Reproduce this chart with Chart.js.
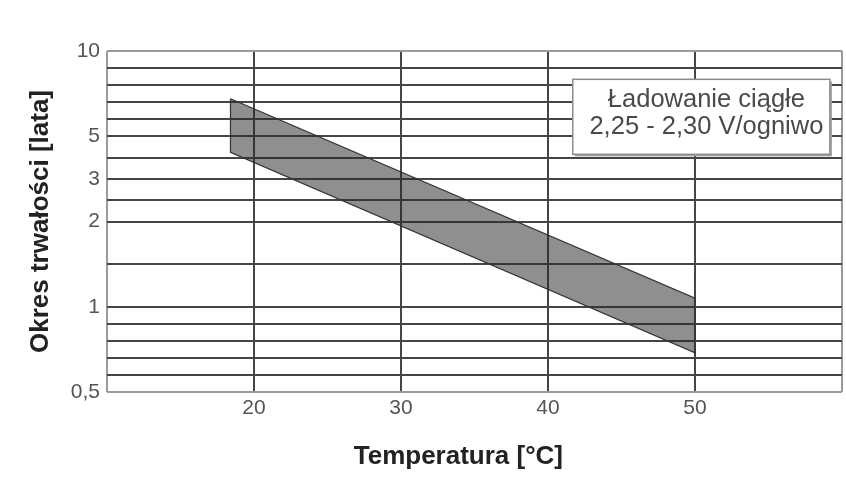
<!DOCTYPE html>
<html>
<head>
<meta charset="utf-8">
<script src="https://cdn.jsdelivr.net/npm/chart.js@4.4.1/dist/chart.umd.min.js"></script>
<style>
html,body{margin:0;padding:0;background:#fff;}
canvas{display:block;}
</style>
</head>
<body>
<canvas id="c" width="846" height="477"></canvas>
<script>
// ---- data ----
const bandTemps = [18.4, 50];          // °C, left and right edge of the band
const lifeUpper = [7.2, 1.1];          // years, upper edge of the band
const lifeLower = [4.25, 0.73];        // years, lower edge of the band
const xTickValues = [20, 30, 40, 50];
const yGridValues = [0.5,0.6,0.7,0.8,0.9,1,1.5,2,2.5,3,4,5,6,7,8,9,10];
// where each grid value sits on the printed (non-uniform) paper scale
const yGridSteps  = [0,0.2,0.4,0.6,0.8,1,1.5,2,2.25,2.5,2.75,3,3.2,3.4,3.6,3.8,4];
const yTickLabels = {10:'10', 5:'5', 3:'3', 2:'2', 1:'1', 0.5:'0,5'};
const noteLines = ['Ładowanie ciągłe', '2,25 - 2,30 V/ogniwo'];
const xTitle = 'Temperatura [°C]';
const yTitle = 'Okres trwałości [lata]';

const FONT = "'Liberation Sans', Arial, sans-serif";

// ---- custom scale reproducing the paper's piecewise value axis ----
class PaperScale extends Chart.LinearScale {
  determineDataLimits() {
    this.min = yGridValues[0];
    this.max = yGridValues[yGridValues.length - 1];
  }
  buildTicks() {
    return yGridValues.map(v => ({ value: v }));
  }
  _stepOf(v) {
    const g = yGridValues, s = yGridSteps, n = g.length - 1;
    if (v <= g[0]) return s[0] + (v - g[0]) / (g[1] - g[0]) * (s[1] - s[0]);
    for (let i = 1; i <= n; i++) {
      if (v <= g[i]) return s[i-1] + (v - g[i-1]) / (g[i] - g[i-1]) * (s[i] - s[i-1]);
    }
    return s[n] + (v - g[n]) / (g[n] - g[n-1]) * (s[n] - s[n-1]);
  }
  getPixelForValue(v) {
    return this.getPixelForDecimal(this._stepOf(v) / yGridSteps[yGridSteps.length - 1]);
  }
  getValueForPixel(p) {
    const g = yGridValues, s = yGridSteps, n = g.length - 1;
    const st = this.getDecimalForPixel(p) * s[n];
    for (let i = 1; i <= n; i++) {
      if (st <= s[i]) return g[i-1] + (st - s[i-1]) / (s[i] - s[i-1]) * (g[i] - g[i-1]);
    }
    return g[n];
  }
}
PaperScale.id = 'paper';
PaperScale.defaults = Chart.LinearScale.defaults;
Chart.register(PaperScale);

// closed band polygon built from the two edges
const bandPoints = [
  { x: bandTemps[0], y: lifeUpper[0] },
  { x: bandTemps[1], y: lifeUpper[1] },
  { x: bandTemps[1], y: lifeLower[1] },
  { x: bandTemps[0], y: lifeLower[0] },
  { x: bandTemps[0], y: lifeUpper[0] }
];

const notePlugin = {
  id: 'note',
  afterDatasetsDraw(chart) {
    const { ctx, chartArea: a } = chart;
    const w = a.right - a.left, h = a.bottom - a.top;
    const x0 = a.left + w * 0.6337, x1 = a.left + w * 0.9835;
    const y0 = a.top + h * 0.083,  y1 = a.top + h * 0.303;
    ctx.save();
    // shadow
    ctx.fillStyle = '#a0a0a0';
    ctx.fillRect(x0 + 2, y0 + 2, x1 - x0, y1 - y0);
    ctx.fillStyle = '#ffffff';
    ctx.fillRect(x0, y0, x1 - x0, y1 - y0);
    ctx.strokeStyle = '#8c8c8c';
    ctx.lineWidth = 1.5;
    ctx.strokeRect(x0, y0, x1 - x0, y1 - y0);
    ctx.fillStyle = '#4a4a4a';
    ctx.font = '25.5px ' + FONT;
    ctx.textAlign = 'center';
    ctx.textBaseline = 'alphabetic';
    const cx = a.left + w * 0.8155;
    ctx.fillText(noteLines[0], cx, a.top + h * 0.1654);
    ctx.fillText(noteLines[1], cx, a.top + h * 0.2434);
    ctx.restore();
  },
  afterDraw(chart) {
    const { ctx } = chart;
    ctx.save();
    ctx.fillStyle = '#222';
    ctx.font = 'bold 26px ' + FONT;
    ctx.textAlign = 'center';
    ctx.textBaseline = 'middle';
    ctx.fillText(xTitle, chart.width * 0.5418, chart.height - 20);
    ctx.restore();
  }
};

const frameColor = '#9a9a9a';
const gridColor = '#454545';

new Chart(document.getElementById('c'), {
  type: 'line',
  data: {
    datasets: [{
      data: bandPoints,
      fill: 'shape',
      backgroundColor: 'rgba(40,40,40,0.52)',
      borderColor: '#333',
      borderWidth: 1.2,
      pointRadius: 0,
      tension: 0
    }]
  },
  options: {
    responsive: false,
    animation: false,
    devicePixelRatio: 1,
    layout: { padding: { left: 0, top: 51, right: 2, bottom: 0 } },
    plugins: { legend: { display: false }, tooltip: { enabled: false } },
    scales: {
      x: {
        type: 'linear',
        min: 10, max: 60,
        afterFit(s) { s.height = 85; },
        border: { display: false },
        grid: {
          drawTicks: false,
          lineWidth: 2,
          color: c => (c.tick && xTickValues.includes(c.tick.value)) ? gridColor : frameColor
        },
        ticks: {
          stepSize: 10,
          autoSkip: false,
          maxRotation: 0,
          padding: 4,
          color: '#555',
          font: { family: FONT, size: 21 },
          callback: v => xTickValues.includes(v) ? String(v) : ''
        }
      },
      y: {
        type: 'paper',
        afterFit(s) { s.width = 107; },
        border: { display: false },
        grid: {
          drawTicks: false,
          lineWidth: 2,
          color: c => (c.tick && (c.tick.value === 10 || c.tick.value === 0.5)) ? frameColor : gridColor
        },
        ticks: {
          autoSkip: false,
          padding: 7,
          color: '#555',
          font: { family: FONT, size: 21 },
          callback: v => (yTickLabels[v] !== undefined ? yTickLabels[v] : '')
        },
        title: {
          display: true,
          text: yTitle,
          color: '#222',
          font: { family: FONT, size: 26, weight: 'bold' },
          padding: { top: 25, bottom: 0 }
        }
      }
    }
  },
  plugins: [notePlugin]
});
</script>
</body>
</html>
